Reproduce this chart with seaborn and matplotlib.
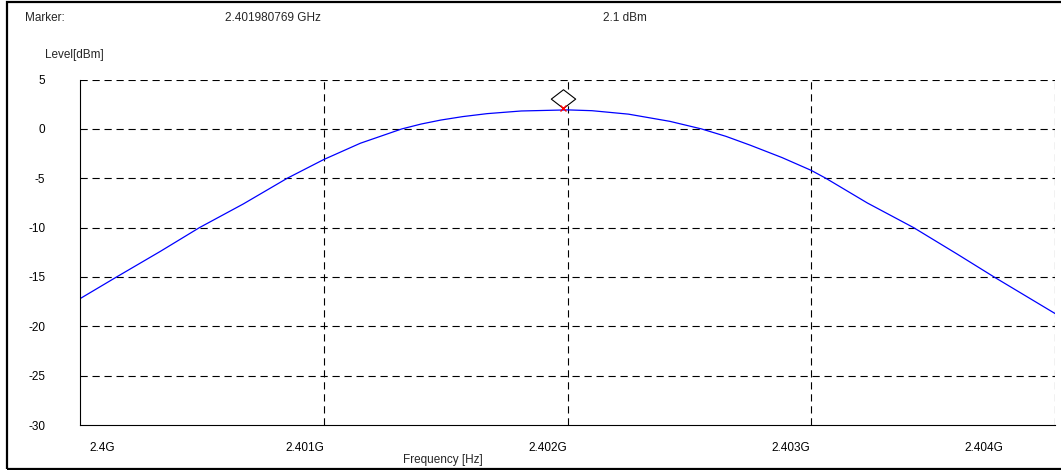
import matplotlib
matplotlib.use('Agg')
import matplotlib.pyplot as plt
import matplotlib.transforms as mtransforms
from matplotlib.path import Path
from matplotlib.patches import Rectangle
import numpy as np
import pandas as pd
import seaborn as sns

# spectrum trace
freq_ghz = [2.40000, 2.40015, 2.40033, 2.40049, 2.40067, 2.40085, 2.40100,
            2.40115, 2.40132, 2.40140, 2.40148, 2.40157, 2.40167, 2.40181,
            2.40200, 2.40210, 2.40225, 2.40242, 2.40255, 2.40265, 2.40275,
            2.40288, 2.40300, 2.40306, 2.40323, 2.40342, 2.40360, 2.40375,
            2.40400]
level_dbm = [-17.2, -15.0, -12.4, -10.0, -7.6, -5.0, -3.1,
             -1.45, 0.0, 0.5, 0.9, 1.25, 1.55, 1.82,
             1.93, 1.85, 1.5, 0.77, 0.0, -0.75, -1.65,
             -2.9, -4.2, -5.0, -7.5, -10.0, -12.7, -15.0,
             -18.7]

marker_freq = 2.401980769
marker_level = 2.1

x_ticks = [2.400, 2.401, 2.402, 2.403, 2.404]
x_labels = ['2.4G', '2.401G', '2.402G', '2.403G', '2.404G']
y_ticks = [5, 0, -5, -10, -15, -20, -25, -30]
y_labels = ['5', '0', '-5', '-10', '-15', '-20', '-25', '-30']

sns.set_style('white')
plt.rcParams['font.family'] = ['Liberation Sans', 'DejaVu Sans']
plt.rcParams['font.size'] = 8.5

W, H = 1061, 470
fig = plt.figure(figsize=(W / 100, H / 100), dpi=100)
ax = fig.add_axes([80 / W, 1 - 425 / H, (1055 - 80) / W, (425 - 79.6) / H])

df = pd.DataFrame({'freq': freq_ghz, 'level': level_dbm})
sns.lineplot(data=df, x='freq', y='level', ax=ax, color='#0000ff', lw=0.9)

ax.set_xlim(2.400, 2.404)
ax.set_ylim(-30, 5)

# dashed grid, incl. top and right edges
dash = (0, (6.5, 4.3))
for yv in y_ticks:
    if yv > -30:
        ax.axhline(yv, color='black', lw=0.8, ls=dash, zorder=1)
for xv in x_ticks[1:]:
    ax.axvline(xv, color='black', lw=0.8, ls=dash, zorder=1)

for s in ['top', 'right']:
    ax.spines[s].set_visible(False)
for s in ['left', 'bottom']:
    ax.spines[s].set_color('black')
    ax.spines[s].set_linewidth(0.8)

ax.set_xticks(x_ticks)
ax.set_xticklabels(x_labels)
ax.set_yticks(y_ticks)
ax.set_yticklabels(y_labels)
ax.tick_params(length=0, pad=12, colors='black', labelsize=8.5)
ax.tick_params(axis='y', pad=25)
ax.set_xlabel('')
ax.set_ylabel('')

# shift x tick labels like the analyser does
x_offsets = [22, -19, -20, -20, -71]
for lab, off in zip(ax.get_xticklabels(), x_offsets):
    lab.set_ha('center')
    lab.set_transform(lab.get_transform() +
                      mtransforms.ScaledTranslation(off / 100, 0, fig.dpi_scale_trans))

# marker: red cross on trace, diamond sitting above it
ax.plot([marker_freq], [marker_level], marker='x', color='red', ms=4.5, mew=1.0,
        zorder=5)
diamond = Path([(0, 0), (-0.65, 0.5), (0, 1.0), (0.65, 0.5), (0, 0)],
               [Path.MOVETO, Path.LINETO, Path.LINETO, Path.LINETO, Path.CLOSEPOLY])
ax.plot([marker_freq], [marker_level], marker=diamond, ms=27, mfc='white',
        mec='black', mew=0.8, zorder=4, clip_on=False)

# header and axis captions
fig.text(25 / W, 1 - 18 / H, 'Marker:', ha='left', va='center')
fig.text(225 / W, 1 - 18 / H, f'{marker_freq:.9f} GHz', ha='left', va='center')
fig.text(603 / W, 1 - 18 / H, f'{marker_level} dBm', ha='left', va='center')
fig.text(45 / W, 1 - 55 / H, 'Level[dBm]', ha='left', va='center')
fig.text(403 / W, 1 - 460 / H, 'Frequency [Hz]', ha='left', va='center')

# outer frame
fig.patches.append(Rectangle((7 / W, 1.5 / H), 1.2, 1 - 3.5 / H, transform=fig.transFigure,
                             fill=False, ec='black', lw=1.6))

fig.savefig('out.png', dpi=100)
